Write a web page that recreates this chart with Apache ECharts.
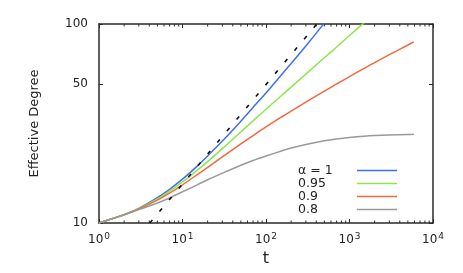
<!DOCTYPE html>
<html>
<head>
<meta charset="utf-8">
<script src="https://cdn.jsdelivr.net/npm/echarts@6/dist/echarts.min.js"></script>
<style>
html,body{margin:0;padding:0;background:#fff;}
#c{width:463px;height:273px;}
</style>
</head>
<body>
<div id="c"></div>
<script>
// ---- data ----
const tValues = [1, 1.5, 2, 3, 5, 7, 10, 15, 20, 30, 50, 70, 100, 150, 200, 300, 500, 700, 1000, 1500, 2000, 3000, 5000, 5900];
const alpha1    = [10, 10.58, 11.02, 11.85, 13.4, 14.77, 16.6, 19.3, 21.7, 25.8, 32.5, 38.1, 45.0, 55.0, 63.3, 77.5, 101.0];
const alpha095  = [10, 10.58, 11.02, 11.8, 13.2, 14.47, 16.1, 18.4, 20.35, 23.65, 28.7, 32.6, 37.3, 43.35, 48.2, 56.0, 67.7, 76.6, 87.5, 101.6];
const alpha09   = [10, 10.58, 11.02, 11.76, 13.03, 14.12, 15.55, 17.49, 19.01, 21.47, 25.0, 27.5, 30.4, 33.9, 36.5, 40.5, 46.0, 49.96, 54.4, 59.9, 64.0, 70.1, 78.4, 81.4];
const alpha08   = [10, 10.56, 10.98, 11.67, 12.6, 13.35, 14.35, 15.55, 16.5, 17.8, 19.5, 20.6, 21.7, 22.95, 23.8, 24.8, 25.9, 26.45, 26.9, 27.3, 27.5, 27.7, 27.85, 27.9];
const guideT = [4.06, 406];
const guideY = [10, 100];
const seriesNames = ['\u03b1 = 1', '0.95', '0.9', '0.8'];
const xMajorTicks = [1, 10, 100, 1000, 10000];
const xMinorTicks = [2,3,4,5,6,7,8,9,20,30,40,50,60,70,80,90,200,300,400,500,600,700,800,900,2000,3000,4000,5000,6000,7000,8000,9000];
const yTicks = [10, 50, 100];

const colors = ['#3d6ff3', '#8de74c', '#f2693d', '#9a9a9a'];
const FONT = 'DejaVu Sans';
const pair = (ys) => ys.map((y, i) => [tValues[i], y]);

const axisLineStyle = { color: '#2a2a2a', width: 1.5 };
const chart = echarts.init(document.getElementById('c'), null, { renderer: 'canvas' });

const lineSeries = [alpha1, alpha095, alpha09, alpha08].map((ys, i) => ({
  name: seriesNames[i],
  type: 'line',
  data: pair(ys),
  symbol: 'none',
  showSymbol: false,
  smooth: 0.2,
  clip: true,
  lineStyle: { color: colors[i], width: 1.5 },
  itemStyle: { color: colors[i] },
  z: 3
}));

chart.setOption({
  animation: false,
  backgroundColor: '#fff',
  grid: { left: 99, right: 30, top: 24, bottom: 50, containLabel: false },
  legend: {
    data: seriesNames.map(n => ({ name: n, icon: 'path://M0,0 H40 V1.5 H0 Z' })),
    orient: 'vertical',
    left: 298,
    top: 164,
    align: 'right',
    itemWidth: 40,
    itemHeight: 12.5,
    itemGap: 0,
    padding: 0,
    symbolKeepAspect: true,
    formatter: (n) => '{a|' + n + '}',
    textStyle: {
      fontFamily: FONT, fontSize: 12.5, color: '#222', lineHeight: 12.5,
      rich: { a: { fontFamily: FONT, fontSize: 12.5, color: '#222', width: 54, align: 'left', lineHeight: 12.5 } }
    }
  },
  xAxis: [
    {
      type: 'log', logBase: 10, min: 1, max: 10000, position: 'bottom',
      name: 't', nameLocation: 'middle', nameGap: 20,
      nameTextStyle: { fontFamily: FONT, fontSize: 16, color: '#222' },
      axisLine: { show: true, lineStyle: axisLineStyle },
      axisTick: { show: true, inside: true, length: 4, customValues: xMajorTicks, lineStyle: { color: '#2a2a2a', width: 1 } },
      axisLabel: {
        show: true, customValues: xMajorTicks, margin: 9, hideOverlap: false,
        fontFamily: FONT, fontSize: 12, color: '#222',
        formatter: (v) => '10{s|' + Math.round(Math.log10(v)) + '}',
        rich: { s: { fontFamily: FONT, fontSize: 9, color: '#222', verticalAlign: 'bottom', padding: [0, 0, 7, 1] } }
      },
      splitLine: { show: false }
    },
    {
      type: 'log', logBase: 10, min: 1, max: 10000, position: 'top',
      axisLine: { show: true, lineStyle: axisLineStyle },
      axisTick: { show: true, inside: true, length: 4, customValues: xMajorTicks, lineStyle: { color: '#2a2a2a', width: 1 } },
      axisLabel: { show: false },
      splitLine: { show: false }
    }
  ],
  yAxis: [
    {
      type: 'log', logBase: 10, min: 10, max: 100, position: 'left',
      name: 'Effective Degree', nameLocation: 'middle', nameGap: 58, nameRotate: 90,
      nameTextStyle: { fontFamily: FONT, fontSize: 13, color: '#222' },
      axisLine: { show: true, lineStyle: axisLineStyle },
      axisTick: { show: true, inside: true, length: 4, customValues: yTicks, lineStyle: { color: '#2a2a2a', width: 1 } },
      axisLabel: { show: true, customValues: yTicks, margin: 11, fontFamily: FONT, fontSize: 12, color: '#222', hideOverlap: false },
      splitLine: { show: false }
    },
    {
      type: 'log', logBase: 10, min: 10, max: 100, position: 'right',
      axisLine: { show: true, lineStyle: axisLineStyle },
      axisTick: { show: true, inside: true, length: 4, customValues: yTicks, lineStyle: { color: '#2a2a2a', width: 1 } },
      axisLabel: { show: false },
      splitLine: { show: false }
    }
  ],
  series: lineSeries.concat([
    {
      name: 'guide',
      type: 'line',
      data: guideT.map((t, i) => [t, guideY[i]]),
      symbol: 'none',
      clip: true,
      lineStyle: { color: '#111', width: 1.6, type: [4, 11] },
      z: 4,
      silent: true
    },
    {
      name: 'minorTicks',
      type: 'custom',
      data: xMinorTicks.map(v => [v, 10]),
      encode: { x: 0, y: 1 },
      clip: false,
      silent: true,
      renderItem: function (params, api) {
        const v = api.value(0);
        const b = api.coord([v, 10]);
        const t = api.coord([v, 100]);
        return {
          type: 'group',
          children: [
            { type: 'line', shape: { x1: b[0], y1: b[1], x2: b[0], y2: b[1] - 2.5 }, style: { stroke: '#2a2a2a', lineWidth: 1 } },
            { type: 'line', shape: { x1: t[0], y1: t[1], x2: t[0], y2: t[1] + 2.5 }, style: { stroke: '#2a2a2a', lineWidth: 1 } }
          ]
        };
      }
    }
  ])
});
</script>
</body>
</html>
